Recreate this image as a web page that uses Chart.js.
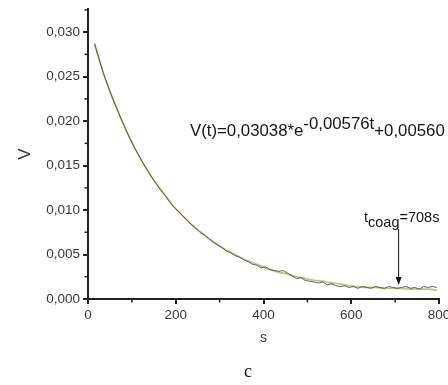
<!DOCTYPE html>
<html lang="en">
<head>
<meta charset="UTF-8">
<title>V(t) decay</title>
<script src="https://cdn.jsdelivr.net/npm/chart.js"></script>
<style>
  body { margin: 0; background: #ffffff; }
  #wrap { width: 448px; height: 385px; }
</style>
</head>
<body>
<div id="wrap"><canvas id="vChart" width="448" height="385"></canvas></div>
<script>
    // measured signal (dark, noisy)
    const measTime = [15, 25, 35, 45, 55, 65, 75, 85, 95, 105, 115, 125, 135, 145, 155, 165, 175, 185, 195, 205,
        215, 225, 235, 245, 255, 265, 275, 285, 295, 305, 315, 325, 335, 345, 355, 365, 375, 385, 395, 405,
        415, 425, 435, 445, 455, 465, 475, 485, 495, 505, 515, 525, 535, 545, 555, 565, 575, 585, 595, 605,
        615, 625, 635, 645, 655, 665, 675, 685, 695, 705, 715, 725, 735, 745, 755, 765, 775, 785, 795];
    const measV = [0.0287, 0.0270, 0.0254, 0.0240, 0.0227, 0.0215, 0.0203, 0.0192, 0.0181, 0.0171,
        0.0162, 0.0153, 0.0145, 0.0137, 0.0130, 0.0123, 0.0117, 0.0110, 0.0104, 0.0099,
        0.0094, 0.0089, 0.0084, 0.0080, 0.0075, 0.0072, 0.0068, 0.0064, 0.0061, 0.0058,
        0.0054, 0.0052, 0.0049, 0.0047, 0.0044, 0.0042, 0.0039, 0.0038, 0.0035, 0.0036,
        0.0033, 0.0032, 0.0031, 0.0032, 0.0029, 0.0026, 0.0023, 0.0024, 0.0021, 0.0020,
        0.0019, 0.0018, 0.0019, 0.0016, 0.0017, 0.0015, 0.0014, 0.0015, 0.0013, 0.0014,
        0.0012, 0.0014, 0.0013, 0.0012, 0.0014, 0.0013, 0.0012, 0.0014, 0.0013, 0.0012,
        0.0013, 0.0014, 0.0012, 0.0013, 0.0011, 0.0014, 0.0013, 0.0014, 0.0013];

    // fitted curve (light olive)
    const fitTime = [15, 35, 55, 75, 95, 115, 135, 155, 175, 195, 215, 235, 255, 275, 295, 315, 335, 355, 375, 395,
        415, 435, 455, 475, 495, 515, 535, 555, 575, 595, 615, 635, 655, 675, 695, 715, 735, 755, 775, 795];
    const fitV = [0.0287, 0.0254, 0.0227, 0.0203, 0.0181, 0.0162, 0.0145, 0.0130, 0.0117, 0.0104,
        0.0094, 0.0084, 0.0076, 0.0068, 0.0061, 0.0055, 0.0050, 0.0045, 0.0041, 0.0037,
        0.0033, 0.0030, 0.0028, 0.0025, 0.0023, 0.0021, 0.0020, 0.0018, 0.0017, 0.0015,
        0.0014, 0.0013, 0.0013, 0.0012, 0.0012, 0.0012, 0.0011, 0.0011, 0.0011, 0.0010];

    const yTicks = [0, 0.005, 0.010, 0.015, 0.020, 0.025, 0.030];
    const yMinor = [0.0025, 0.0075, 0.0125, 0.0175, 0.0225, 0.0275, 0.0325];
    const xTicks = [0, 200, 400, 600, 800];
    const xMinor = [100, 300, 500, 700];
    const tCoag = 708;

    const axisColor = '#222';
    const textColor = '#3a3a3a';
    const sans = '"Liberation Sans", Arial, sans-serif';

    function pinScale(scale) {
        scale.paddingLeft = 0;
        scale.paddingRight = 0;
        scale.paddingTop = 0;
        scale.paddingBottom = 0;
    }

    // minor ticks, axis titles, formula, arrow, caption
    const extras = {
        id: 'extras',
        afterDraw(chart) {
            const ctx = chart.ctx;
            const x = chart.scales.x, y = chart.scales.y;
            ctx.save();
            ctx.strokeStyle = axisColor;
            ctx.lineWidth = 1.5;
            xMinor.forEach(v => {
                const px = x.getPixelForValue(v);
                ctx.beginPath(); ctx.moveTo(px, y.bottom); ctx.lineTo(px, y.bottom + 3.5); ctx.stroke();
            });
            yMinor.forEach(v => {
                const py = y.getPixelForValue(v);
                ctx.beginPath(); ctx.moveTo(x.left, py); ctx.lineTo(x.left - 3.5, py); ctx.stroke();
            });

            ctx.fillStyle = textColor;
            ctx.textBaseline = 'middle';
            ctx.textAlign = 'center';
            ctx.font = '14px ' + sans;
            ctx.fillText('s', (x.left + x.right) / 2, 338);

            ctx.save();
            ctx.translate(25, (y.top + y.bottom) / 2);
            ctx.rotate(-Math.PI / 2);
            ctx.font = '17px ' + sans;
            ctx.fillText('V', 0, 0);
            ctx.restore();

            // fit formula
            ctx.textAlign = 'left';
            ctx.textBaseline = 'alphabetic';
            ctx.fillStyle = '#151515';
            ctx.font = '16.8px ' + sans;
            let fx = 190;
            const base = 136;
            ctx.fillText('V(t)=0,03038*e', fx, base);
            fx += ctx.measureText('V(t)=0,03038*e').width;
            ctx.fillText('-0,00576t', fx, base - 7);
            fx += ctx.measureText('-0,00576t').width;
            ctx.fillText('+0,00560', fx, base);

            // t_coag label and arrow
            const ax = x.getPixelForValue(tCoag);
            ctx.font = '14.5px ' + sans;
            let tx = 364;
            ctx.fillText('t', tx, 222);
            tx += ctx.measureText('t').width;
            ctx.fillText('coag', tx, 227);
            tx += ctx.measureText('coag').width;
            ctx.fillText('=708s', tx, 222);

            ctx.strokeStyle = '#111';
            ctx.lineWidth = 1;
            ctx.beginPath(); ctx.moveTo(ax, 229); ctx.lineTo(ax, 280); ctx.stroke();
            ctx.fillStyle = '#111';
            ctx.beginPath(); ctx.moveTo(ax, 285); ctx.lineTo(ax - 3, 277); ctx.lineTo(ax + 3, 277); ctx.closePath(); ctx.fill();

            // panel letter
            ctx.textAlign = 'center';
            ctx.textBaseline = 'middle';
            ctx.font = '18px "Liberation Serif", "Times New Roman", serif';
            ctx.fillText('c', 248, 372);
            ctx.restore();
        }
    };

    const ctx = document.getElementById('vChart').getContext('2d');
    new Chart(ctx, {
        type: 'line',
        data: {
            datasets: [{
                label: 'measured',
                data: measTime.map((t, i) => ({ x: t, y: measV[i] })),
                borderColor: 'rgba(70, 70, 60, 0.85)',
                borderWidth: 1,
                pointRadius: 0,
                tension: 0,
                order: 1
            }, {
                label: 'fit',
                data: fitTime.map((t, i) => ({ x: t, y: fitV[i] })),
                borderColor: 'rgba(190, 190, 120, 0.9)',
                borderWidth: 1.8,
                pointRadius: 0,
                cubicInterpolationMode: 'monotone',
                order: 2
            }]
        },
        options: {
            responsive: false,
            animation: false,
            layout: { padding: { left: 0, right: 9, top: 9, bottom: 0 } },
            plugins: {
                legend: { display: false },
                tooltip: { enabled: false }
            },
            scales: {
                x: {
                    type: 'linear',
                    min: 0,
                    max: 800,
                    afterBuildTicks: s => { s.ticks = xTicks.map(v => ({ value: v })); },
                    afterFit: s => { s.height = 86; pinScale(s); },
                    ticks: {
                        color: textColor,
                        font: { family: sans, size: 13.5 },
                        padding: 3,
                        maxRotation: 0,
                        callback: v => String(v)
                    },
                    grid: { drawOnChartArea: false, drawTicks: true, tickLength: 5, color: axisColor, lineWidth: 2 },
                    border: { color: axisColor, width: 2 }
                },
                y: {
                    min: 0,
                    max: 0.0326,
                    afterBuildTicks: s => { s.ticks = yTicks.map(v => ({ value: v })); },
                    afterFit: s => { s.width = 88; pinScale(s); },
                    ticks: {
                        color: textColor,
                        font: { family: sans, size: 13.5 },
                        padding: 3,
                        callback: v => v.toFixed(3).replace('.', ',')
                    },
                    grid: { drawOnChartArea: false, drawTicks: true, tickLength: 5, color: axisColor, lineWidth: 2 },
                    border: { color: axisColor, width: 2 }
                }
            }
        },
        plugins: [extras]
    });
</script>
</body>
</html>
